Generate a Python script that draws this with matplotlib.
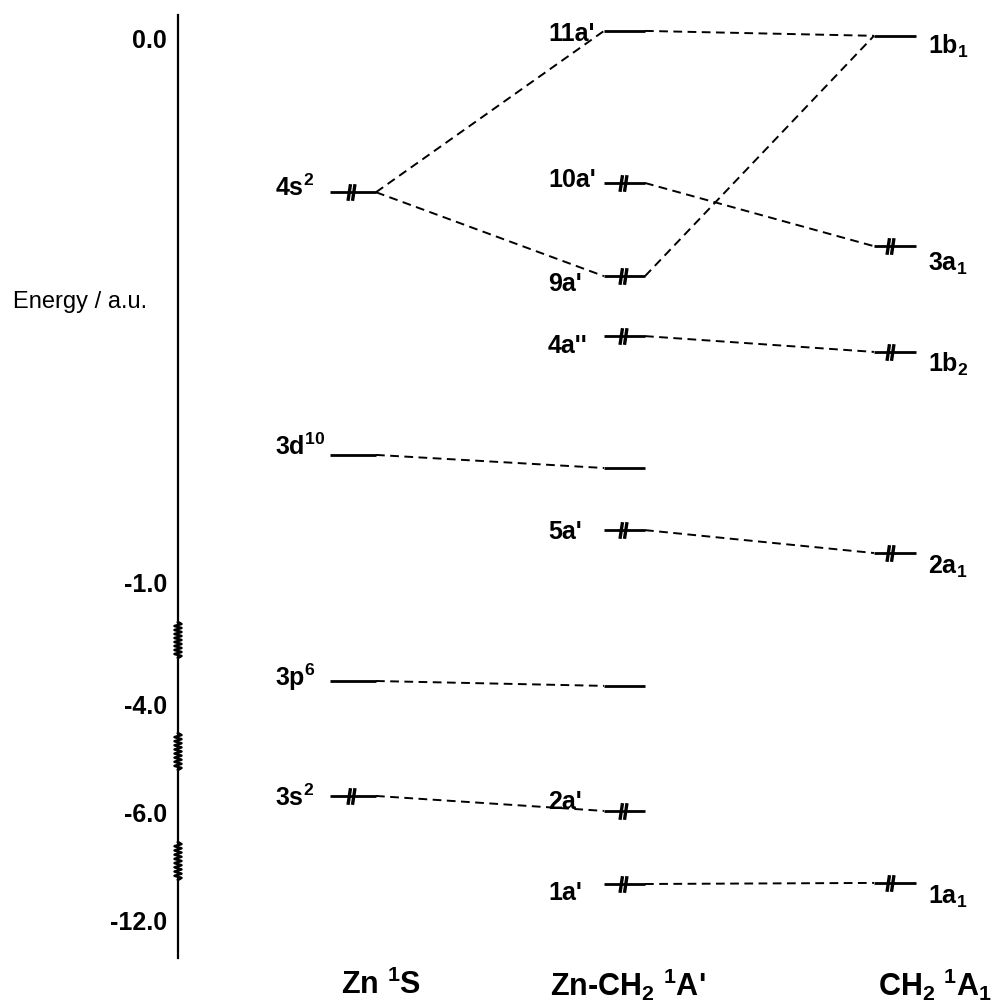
import numpy as np
import matplotlib
matplotlib.use("Agg")
import matplotlib.pyplot as plt
from matplotlib.path import Path
from matplotlib.transforms import offset_copy

plt.rcParams['font.family'] = ['Liberation Sans', 'DejaVu Sans']
plt.rcParams['mathtext.fontset'] = 'custom'
plt.rcParams['mathtext.rm'] = 'Liberation Sans:bold'
plt.rcParams['mathtext.bf'] = 'Liberation Sans:bold'
plt.rcParams['mathtext.it'] = 'Liberation Sans:bold'
plt.rcParams['mathtext.default'] = 'bf'

# ---------------- data ----------------
zn_labels = ['4s$^{2}$', '3d$^{10}$', '3p$^{6}$', '3s$^{2}$']
zn_energy = [-0.283, -0.765, -3.41, -5.70]
zn_occupied = [True, False, False, True]

cx_labels = ["11a'", "10a'", "9a'", "4a''", "", "5a'", "", "2a'", "1a'"]
cx_energy = [0.013, -0.266, -0.437, -0.547, -0.789, -0.903, -3.53, -5.98, -10.0]
cx_occupied = [False, True, True, True, False, True, False, True, True]

ch2_labels = ['1b$_{1}$', '3a$_{1}$', '1b$_{2}$', '2a$_{1}$', '1a$_{1}$']
ch2_energy = [0.004, -0.382, -0.576, -0.945, -9.94]
ch2_occupied = [False, True, True, True, True]

# correlations: (from column, index, to column, index)
correlations = [
    ('zn', 0, 'cx', 0), ('zn', 0, 'cx', 2), ('zn', 1, 'cx', 4),
    ('zn', 2, 'cx', 6), ('zn', 3, 'cx', 7),
    ('cx', 0, 'ch2', 0), ('cx', 2, 'ch2', 0), ('cx', 1, 'ch2', 1),
    ('cx', 3, 'ch2', 2), ('cx', 5, 'ch2', 3), ('cx', 8, 'ch2', 4),
]

tick_values = [0.0, -1.0, -4.0, -6.0, -12.0]
tick_labels = ['0.0', '-1.0', '-4.0', '-6.0', '-12.0']
column_titles = ['Zn $^{1}$S', 'Zn-CH$_{2}$ $^{1}$A\'', 'CH$_{2}$ $^{1}$A$_{1}$']

# ---------------- broken energy scale ----------------
E_anchor = np.array([0.0697, 0.0, -1.0, -4.0, -6.0, -12.0, -16.83])
P_anchor = np.array([0.0, 38.0, 583.0, 705.0, 812.0, 920.0, 1007.0])

def forward(E):
    E = np.asarray(E, dtype=float)
    return -np.interp(E, E_anchor[::-1], P_anchor[::-1])

def inverse(v):
    v = np.asarray(v, dtype=float)
    return np.interp(-v, P_anchor, E_anchor)

def pix2E(p):
    return np.interp(p, P_anchor, E_anchor)

# ---------------- layout ----------------
fig = plt.figure(figsize=(10.07, 10.07), dpi=100)
ax = fig.add_axes([0, 0, 1, 1])
ax.set_yscale('function', functions=(forward, inverse))
ax.set_xlim(0, 1007)
ax.set_ylim(E_anchor[-1], E_anchor[0])

cols = {
    'zn':  dict(x0=330, x1=376, xm=351, lx=275, E=zn_energy, lab=zn_labels, occ=zn_occupied,
                off=[-4, -8, -4, 2]),
    'cx':  dict(x0=604, x1=645, xm=623, lx=548, E=cx_energy, lab=cx_labels, occ=cx_occupied,
                off=[3, -3, 8, 10, 0, 2, 0, -9, 9]),
    'ch2': dict(x0=874, x1=916, xm=890, lx=928, E=ch2_energy, lab=ch2_labels, occ=ch2_occupied,
                off=[11, 18, 12, 14, 14]),
}

pair = Path([(-0.42, -1.0), (-0.12, 1.0), (0.12, -1.0), (0.42, 1.0)],
            [Path.MOVETO, Path.LINETO, Path.MOVETO, Path.LINETO])

for key, c in cols.items():
    for i, e in enumerate(c['E']):
        ax.plot([c['x0'], c['x1']], [e, e], color='black', lw=2.0, solid_capstyle='butt')
        if c['occ'][i]:
            ax.plot([c['xm']], [e], marker=pair, markersize=12, mew=2.4,
                    color='black', linestyle='none')
        if c['lab'][i]:
            tr = offset_copy(ax.transData, fig=fig, x=0, y=-c['off'][i], units='dots')
            ax.text(c['lx'], e, c['lab'][i], transform=tr, ha='left', va='center',
                    fontsize=18, fontweight='bold')

for a, i, b, j in correlations:
    ca, cb = cols[a], cols[b]
    ax.plot([ca['x1'], cb['x0']], [ca['E'][i], cb['E'][j]], color='black', lw=1.4,
            dashes=(4.5, 2.8))

# axis
ax.spines[['top', 'right', 'bottom']].set_visible(False)
ax.spines['left'].set_position(('data', 178))
ax.spines['left'].set_linewidth(1.6)
ax.spines['left'].set_bounds(pix2E(958), pix2E(15))
ax.set_xticks([])
ax.set_yticks(tick_values)
ax.set_yticklabels(tick_labels)
ax.tick_params(axis='y', length=0, pad=8, labelsize=18)
for t in ax.get_yticklabels():
    t.set_fontweight('bold')
ax.patch.set_alpha(0)

# axis break zigzags
for p0, p1 in [(622, 658), (733, 770), (842, 880)]:
    n = 18
    py = np.linspace(p0, p1, n + 1)
    px = 178 + np.where(np.arange(n + 1) % 2 == 0, -3.5, 3.5)
    px[0] = px[-1] = 178
    ax.plot(px, pix2E(py), color='black', lw=1.8)

ax.text(13, pix2E(302), 'Energy / a.u.', ha='left', va='center', fontsize=17)

for x, t in zip([381, 628, 935], column_titles):
    ax.text(x, pix2E(985), t, ha='center', va='center', fontsize=22, fontweight='bold')

fig.savefig('out.png', dpi=100)
